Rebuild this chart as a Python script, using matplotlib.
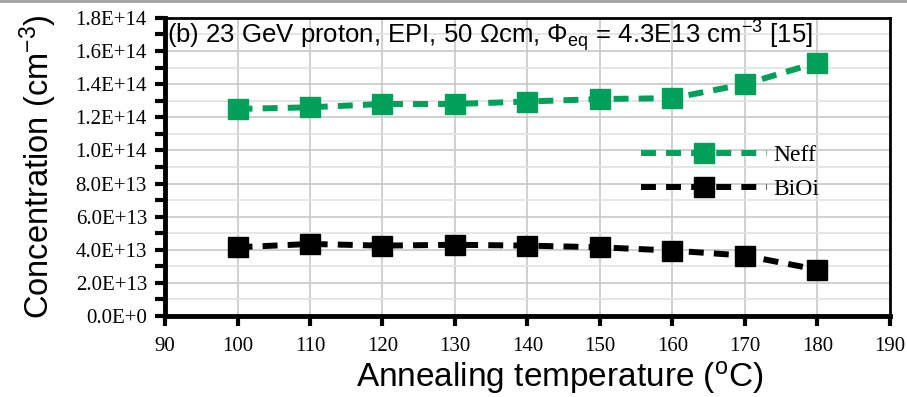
import matplotlib
matplotlib.use('Agg')
import matplotlib.pyplot as plt
from matplotlib.ticker import MultipleLocator, FixedLocator, FixedFormatter
from matplotlib.lines import Line2D

temps = [100, 110, 120, 130, 140, 150, 160, 170, 180]
neff = [1.25e14, 1.26e14, 1.28e14, 1.28e14, 1.295e14, 1.31e14, 1.315e14, 1.40e14, 1.53e14]
bioi = [4.15e13, 4.35e13, 4.25e13, 4.3e13, 4.25e13, 4.15e13, 3.95e13, 3.65e13, 2.8e13]

xticks = [90, 100, 110, 120, 130, 140, 150, 160, 170, 180, 190]
yticks = [0, 2e13, 4e13, 6e13, 8e13, 1e14, 1.2e14, 1.4e14, 1.6e14, 1.8e14]
ylabels = ['0.0E+0', '2.0E+13', '4.0E+13', '6.0E+13', '8.0E+13', '1.0E+14',
           '1.2E+14', '1.4E+14', '1.6E+14', '1.8E+14']

green = '#00a05a'

fig = plt.figure(figsize=(9.07, 3.97), dpi=100)
ax = fig.add_axes([0.182, 0.204, 0.799, 0.751])

dash = (2.5, 1.7)
ax.plot(temps, neff, color=green, lw=4.3, ls=(0, dash), marker='s', ms=14,
        label='Neff', zorder=3, dash_capstyle='butt')
ax.plot(temps, bioi, color='black', lw=4.3, ls=(0, dash), marker='s', ms=14,
        label='BiOi', zorder=3, dash_capstyle='butt')

ax.set_xlim(90, 190)
ax.set_ylim(0, 1.8e14)
ax.xaxis.set_major_locator(FixedLocator(xticks))
ax.yaxis.set_major_locator(FixedLocator(yticks))
ax.yaxis.set_major_formatter(FixedFormatter(ylabels))
ax.yaxis.set_minor_locator(MultipleLocator(1e13))

ax.grid(True, which='major', color='#c8c8c8', lw=1.2)
ax.grid(True, which='minor', axis='y', color='#e2e2e2', lw=1.2)
ax.set_axisbelow(True)

for side in ['left', 'bottom']:
    ax.spines[side].set_linewidth(3.5)
for side in ['top', 'right']:
    ax.spines[side].set_linewidth(2)
ax.tick_params(which='major', length=7, width=3, direction='out')
ax.tick_params(axis='y', which='major', pad=6)
ax.tick_params(axis='x', which='major', pad=8)
ax.tick_params(which='minor', length=7, width=3, direction='out')
ax.tick_params(axis='x', which='minor', length=0)
ax.tick_params(top=False, right=False)

for lab in ax.get_xticklabels() + ax.get_yticklabels():
    lab.set_family('Liberation Serif')
    lab.set_fontsize(15)

ax.set_xlabel('Annealing temperature ($\\mathregular{^o}$C)', family='Liberation Sans',
              fontsize=24)
ax.xaxis.set_label_coords(0.545, -0.145)
ax.set_ylabel('Concentration (cm$\\mathregular{^{-3}}$)', family='Liberation Sans',
              fontsize=23.5, labelpad=12)

ax.text(0.003, 1.0, '(b) 23 GeV proton, EPI, 50 \u03a9cm, \u03a6$\\mathregular{_{eq}}$ = 4.3E13 cm$\\mathregular{^{-3}}$ [15]',
        transform=ax.transAxes, ha='left', va='top', family='Liberation Sans',
        fontsize=18.5)

leg = ax.legend(loc='upper left', bbox_to_anchor=(0.628, 0.645), frameon=False,
                handlelength=5.3, handletextpad=0.3, labelspacing=0.5,
                prop={'family': 'Liberation Serif', 'size': 17})

fig.add_artist(Line2D([0, 1], [0.997, 0.997], color='#a0a0a0', lw=2,
                      transform=fig.transFigure))

fig.savefig('out.png', dpi=100)
